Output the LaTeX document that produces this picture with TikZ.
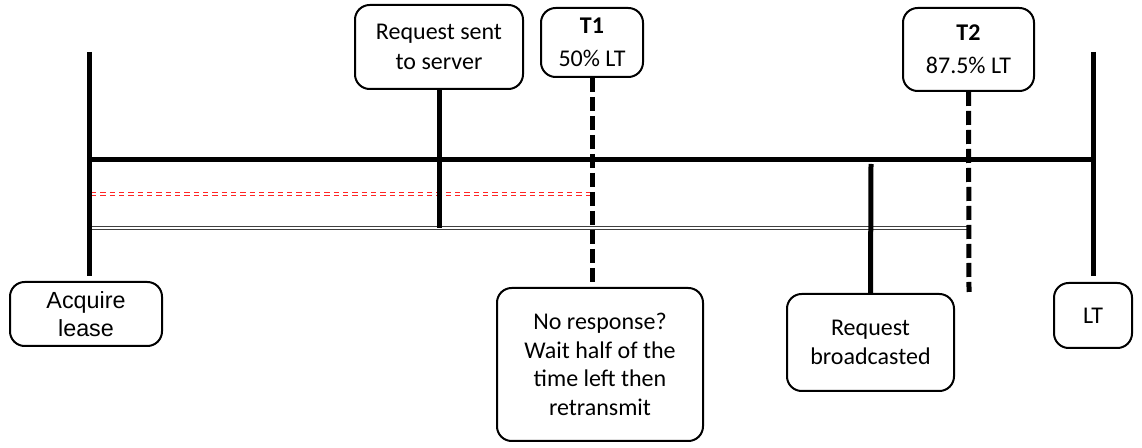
\documentclass[tikz,border=0pt]{standalone}
\usepackage{fontspec}
\setmainfont{Carlito}
\newfontfamily\arialfont{Liberation Sans}
\usetikzlibrary{positioning}
\tikzset{bx/.append style={draw, rounded corners=11pt, line width=1.5pt, align=center, inner sep=2pt, font=\fontsize{18}{21.5}\selectfont}}
\tikzset{tk/.append style={line width=3.75pt}}
\tikzset{dk/.append style={line width=3.75pt, dash pattern=on 10.5pt off 3.75pt}}
\tikzset{rd/.append style={draw=red!85, line width=1pt, double=white, double distance=0.9pt, dash pattern=on 4pt off 3pt}}
\tikzset{gd/.append style={draw=black!75, line width=0.8pt, double=white, double distance=0.8pt}}

\begin{document}
\begin{tikzpicture}[x=0.75pt,y=-0.75pt]
                \useasboundingbox (0,0) rectangle (1142,448);
                % boxes
                \node[bx, minimum width=114pt, minimum height=48pt, font=\arialfont\fontsize{17.5}{21}\selectfont] (acq) at (86,314) {Acquire\\lease};
                \node[bx, minimum width=126pt, minimum height=63pt, font=\fontsize{18}{23}\selectfont] (req) at (439,47) {Request sent\\to server};
                \node[bx, minimum width=76.5pt, minimum height=51.75pt, font=\fontsize{18}{25}\selectfont] (t1) at (592,42.5) {\textbf{T1}\\50\% LT};
                \node[bx, minimum width=98.25pt, minimum height=62.25pt, font=\fontsize{18}{25}\selectfont] (t2) at (968.5,49.5) {\textbf{T2}\\87.5\% LT};
                \node[bx, minimum width=154.5pt, minimum height=114.75pt] (nr) at (600,364.5) {No response?\\Wait half of the\\time left then\\retransmit};
                \node[bx, minimum width=125.25pt, minimum height=72.75pt] (bc) at (870.5,342.5) {Request\\broadcasted};
                \node[bx, minimum width=58.5pt, minimum height=48.75pt] (lt) at (1093,315.5) {LT};
                % time line
                \coordinate (a0) at (89,160);
                \coordinate (a1) at (1093,160);
                \coordinate (s0) at (89,52);
                \coordinate (s1) at (89,276);
                \coordinate (e0) at (1093,52);
                \coordinate (e1) at (1093,276);
                \coordinate (b0) at (871,164);
                \coordinate (d0) at (969,292);
                \coordinate (r0) at (91,194);
                \coordinate (g0) at (91,228);
                \draw[rd] (r0) -- (r0 -| t1.south);
                \draw[gd] (g0) -- (g0 -| t2.south);
                \draw[tk] (a0) -- (a1);
                \draw[tk] (s0) -- (s1);
                \draw[tk] (e0) -- (e1);
                \draw[tk] (req.south) -- (req.south |- g0);
                \draw[tk] (b0) -- (bc.north);
                \draw[dk] (t1.south) -- (t1.south |- nr.north);
                \draw[dk] (t2.south) -- (d0);
            \end{tikzpicture}
\end{document}
